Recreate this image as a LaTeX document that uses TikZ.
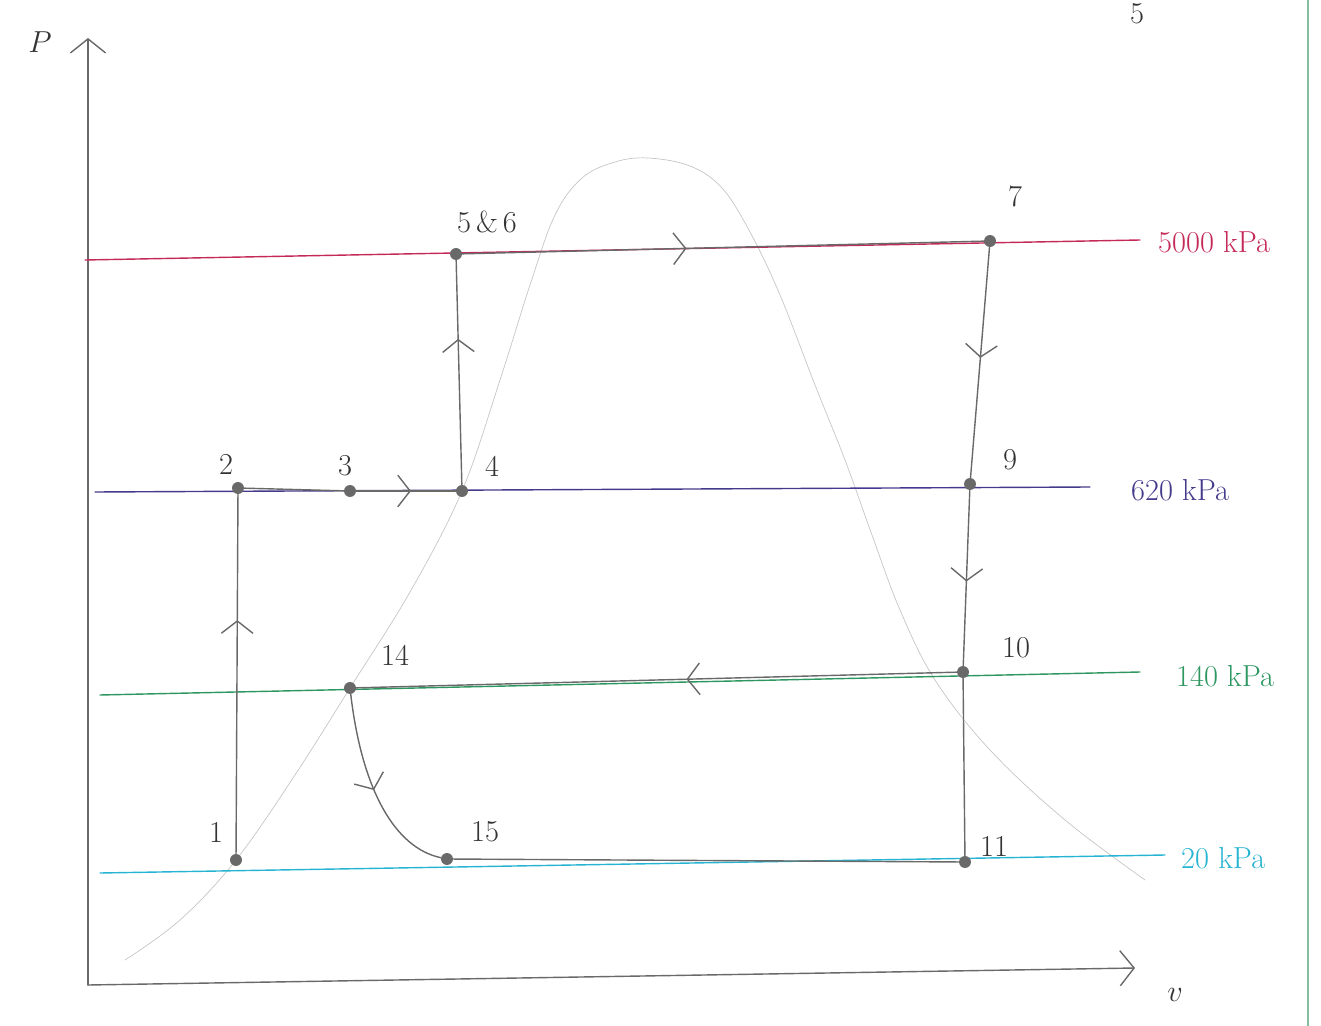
\documentclass[tikz,border=0pt]{standalone}
\usepackage{tikz}
\usetikzlibrary{arrows.meta,decorations.markings}
\definecolor{isored}{RGB}{196,42,88}
\definecolor{isoblue}{RGB}{68,58,140}
\definecolor{isogreen}{RGB}{46,150,96}
\definecolor{isocyan}{RGB}{38,180,210}
\definecolor{pencil}{RGB}{105,105,105}
\tikzset{
  statept/.style={circle, fill=pencil, inner sep=2.4pt},
  statelbl/.style={font=\LARGE, text=black!80},
  cycline/.style={draw=pencil, thick},
  midarrow/.style={postaction={decorate}, decoration={markings,
    mark=at position #1 with {\arrow{Straight Barb[length=7pt,width=18pt]}}}},
}

\begin{document}
\begin{tikzpicture}[x=0.02cm, y=-0.02cm, line cap=round]
	\useasboundingbox (0,0) rectangle (1321,1026);
	% page margin line and page number
	\draw[isogreen!60, thick] (1308,0) -- (1308,1026);
	\node[statelbl] (pagenum) at (1137,14) {5};
	% axes
	\coordinate (O) at (88,985);
	\coordinate (Ptop) at (88,38);
	\coordinate (vend) at (1135,968);
	\draw[pencil, thick, -{Straight Barb[length=8pt,width=20pt]}] (O) -- (Ptop);
	\draw[pencil, thick, -{Straight Barb[length=8pt,width=20pt]}] (O) -- (vend);
	\node[statelbl] (Plbl) at (40,42) {$P$};
	\node[statelbl] (vlbl) at (1175,995) {$v$};
	% saturation dome
	\draw[gray!45] plot[smooth, tension=0.6] coordinates {(125,960) (180,920) (236,860) (295,775) (350,688) (410,592) (462,491) (500,380) (530,285) (555,215) (582,178) (615,162) (648,158) (690,166) (722,188) (750,232) (780,295) (815,385) (845,460) (872,535) (900,610) (935,680) (990,750) (1065,820) (1145,880)};
	% isobars
	\coordinate (a1) at (85,260);  \coordinate (a2) at (1140,240);
	\coordinate (b1) at (95,492);  \coordinate (b2) at (1090,487);
	\coordinate (c1) at (100,695); \coordinate (c2) at (1140,672);
	\coordinate (d1) at (100,873); \coordinate (d2) at (1165,855);
	\draw[isored, thick] (a1) -- (a2);
	\draw[isoblue, thick] (b1) -- (b2);
	\draw[isogreen, thick] (c1) -- (c2);
	\draw[isocyan, thick] (d1) -- (d2);
	\node[font=\LARGE, text=isored, anchor=west] (pa) at (1152,242) {5000 kPa};
	\node[font=\LARGE, text=isoblue, anchor=west] (pb) at (1125,490) {620 kPa};
	\node[font=\LARGE, text=isogreen, anchor=west] (pc) at (1170,676) {140 kPa};
	\node[font=\LARGE, text=isocyan, anchor=west] (pd) at (1175,858) {20 kPa};
	% state points
	\node[statept] (s1) at (236,860) {};
	\node[statept] (s2) at (238,488) {};
	\node[statept] (s3) at (350,491) {};
	\node[statept] (s4) at (462,491) {};
	\node[statept] (s5) at (456,254) {};
	\node[statept] (s7) at (990,241) {};
	\node[statept] (s9) at (970,484) {};
	\node[statept] (s10) at (963,672) {};
	\node[statept] (s11) at (965,862) {};
	\node[statept] (s14) at (350,688) {};
	\node[statept] (s15) at (447,859) {};
	% cycle
	\draw[cycline, midarrow=0.65] (s1) -- (s2);
	\draw[cycline] (s2) -- (s3);
	\draw[cycline, midarrow=0.55] (s3) -- (s4);
	\draw[cycline, midarrow=0.65] (s4) -- (s5);
	\draw[cycline, midarrow=0.43] (s5) -- (s7);
	\draw[cycline, midarrow=0.48] (s7) -- (s9);
	\draw[cycline, midarrow=0.52] (s9) -- (s10);
	\draw[cycline, midarrow=0.45] (s10) -- (s14);
	\draw[cycline, midarrow=0.5] (s14) .. controls (362,790) and (395,848) .. (s15);
	\draw[cycline] (s15) -- (s11);
	\draw[cycline] (s11) -- (s10);
	% labels
	\node[statelbl] (l1) at (216,832) {1};
	\node[statelbl] (l2) at (226,464) {2};
	\node[statelbl] (l3) at (345,466) {3};
	\node[statelbl] (l4) at (492,466) {4};
	\node[statelbl] (l5) at (487,222) {5\,\&\,6};
	\node[statelbl] (l7) at (1015,196) {7};
	\node[statelbl] (l9) at (1010,460) {9};
	\node[statelbl] (l10) at (1016,648) {10};
	\node[statelbl] (l11) at (994,846) {11};
	\node[statelbl] (l14) at (395,655) {14};
	\node[statelbl] (l15) at (485,832) {15};
\end{tikzpicture}
\end{document}
